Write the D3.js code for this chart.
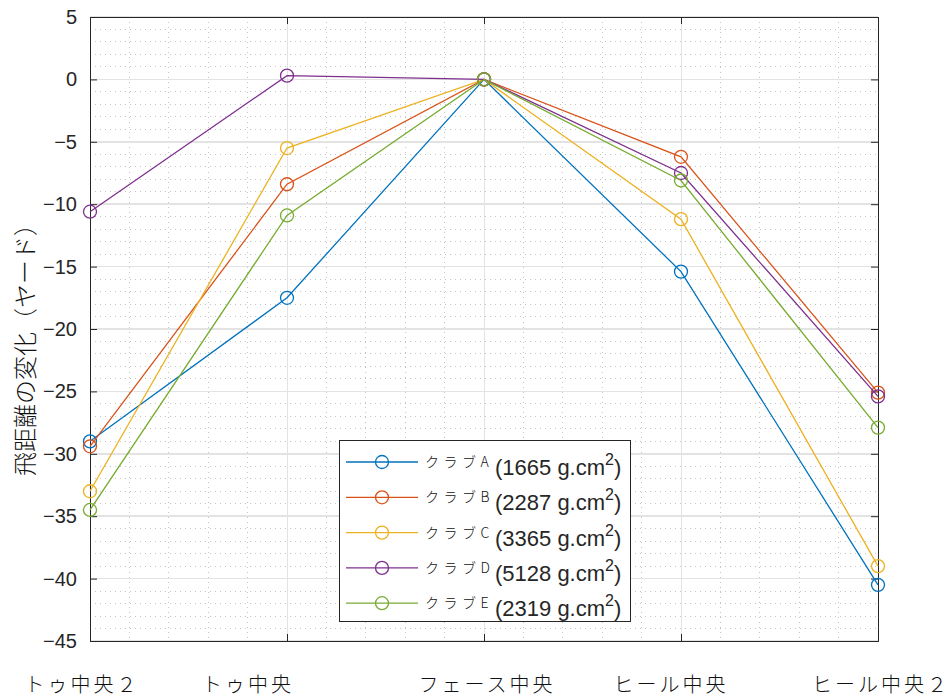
<!DOCTYPE html>
<html>
<head>
<meta charset="utf-8">
<script src="https://cdn.jsdelivr.net/npm/d3@7"></script>
<style>
  html, body { margin: 0; padding: 0; background: #fff; }
  svg { display: block; }
</style>
</head>
<body>
<svg id="chart" width="951" height="698"></svg>
<script>
// ---- data ----
const categories = ["トゥ中央２", "トゥ中央", "フェース中央", "ヒール中央", "ヒール中央２"];
const seriesNames = ["クラブA", "クラブB", "クラブC", "クラブD", "クラブE"];
const seriesMoi = ["1665", "2287", "3365", "5128", "2319"];
const clubA = [-29.0, -17.5, 0, -15.4, -40.5];
const clubB = [-29.4, -8.4, 0, -6.2, -25.1];
const clubC = [-33.0, -5.5, 0, -11.2, -39.0];
const clubD = [-10.6, 0.3, 0, -7.5, -25.4];
const clubE = [-34.5, -10.9, 0, -8.1, -27.9];
const yTicks = [5, 0, -5, -10, -15, -20, -25, -30, -35, -40, -45];
const yLabel = "飛距離の変化（ヤード）";

const series = [clubA, clubB, clubC, clubD, clubE];
const colors = ["#0072BD", "#D95319", "#EDB120", "#7E2F8E", "#77AC30"];

// ---- layout ----
const svg = d3.select("#chart");
const L = 90, R = 878, T = 17, B = 641;
const x = d3.scaleLinear().domain([1, 5]).range([L, R]);
const y = d3.scaleLinear().domain([-45, 5]).range([B, T]);
const axisCol = "#262626";

// grid: minor dotted
const g = svg.append("g");
const minorX = d3.range(1, 5.0001, 0.2).filter(v => Math.abs(v - Math.round(v)) > 1e-6);
const minorY = d3.range(-45, 5.0001, 1).filter(v => v % 5 !== 0);
g.selectAll(".mx").data(minorX).enter().append("line")
  .attr("x1", d => x(d)).attr("x2", d => x(d)).attr("y1", T).attr("y2", B)
  .attr("stroke", "#c4c4c4").attr("stroke-width", 1).attr("stroke-dasharray", "1,4").attr("shape-rendering", "crispEdges");
g.selectAll(".my").data(minorY).enter().append("line")
  .attr("x1", L).attr("x2", R).attr("y1", d => y(d)).attr("y2", d => y(d))
  .attr("stroke", "#c4c4c4").attr("stroke-width", 1).attr("stroke-dasharray", "1,4").attr("shape-rendering", "crispEdges");
// major grid
g.selectAll(".Mx").data([1, 2, 3, 4, 5]).enter().append("line")
  .attr("x1", d => x(d)).attr("x2", d => x(d)).attr("y1", T).attr("y2", B)
  .attr("stroke", "#e3e3e3").attr("stroke-width", 1).attr("shape-rendering", "crispEdges");
g.selectAll(".My").data(yTicks).enter().append("line")
  .attr("x1", L).attr("x2", R).attr("y1", d => y(d)).attr("y2", d => y(d))
  .attr("stroke", "#e3e3e3").attr("stroke-width", 1.5).attr("shape-rendering", "crispEdges");

// axes (ticks inward)
const tl = 7;
svg.append("g").attr("transform", `translate(${L},0)`)
  .call(d3.axisLeft(y).tickValues(yTicks).tickSize(-tl).tickPadding(tl + 6).tickFormat(d3.format("d")))
  .call(a => {
    a.select(".domain").attr("stroke", axisCol);
    a.selectAll(".tick line").attr("stroke", axisCol);
    a.selectAll("text").attr("fill", axisCol).style("font-family", "'Liberation Sans', Arial, sans-serif").style("font-size", "20px");
  });
svg.append("g").attr("transform", `translate(${R},0)`)
  .call(d3.axisRight(y).tickValues(yTicks).tickSize(-tl).tickFormat(""))
  .call(a => { a.select(".domain").attr("stroke", axisCol); a.selectAll(".tick line").attr("stroke", axisCol); });
svg.append("g").attr("transform", `translate(0,${B})`)
  .call(d3.axisBottom(x).tickValues([1, 2, 3, 4, 5]).tickSize(-tl).tickFormat(""))
  .call(a => { a.select(".domain").attr("stroke", axisCol); a.selectAll(".tick line").attr("stroke", axisCol); });
svg.append("g").attr("transform", `translate(0,${T})`)
  .call(d3.axisTop(x).tickValues([1, 2, 3, 4, 5]).tickSize(-tl).tickFormat(""))
  .call(a => { a.select(".domain").attr("stroke", axisCol); a.selectAll(".tick line").attr("stroke", axisCol); });

// category labels
const labelShift = [-8, -39, 3, -10, 3];
svg.append("g").selectAll("text").data(categories).enter().append("text")
  .attr("x", (d, i) => x(i + 1) + labelShift[i]).attr("y", 692)
  .attr("text-anchor", "middle")
  .style("font-family", "'Noto Sans CJK JP', sans-serif").style("font-size", "20px").style("font-weight", "300")
  .style("letter-spacing", "3px").attr("fill", "#111")
  .text(d => d);

// y label
svg.append("text")
  .attr("transform", `translate(34,${344}) rotate(-90)`)
  .attr("text-anchor", "middle")
  .style("font-family", "'Noto Sans CJK JP', sans-serif").style("font-size", "24px").style("font-weight", "300")
  .attr("fill", "#111")
  .text(yLabel);

// lines and markers
const line = d3.line().x((d, i) => x(i + 1)).y(d => y(d));
series.forEach((s, k) => {
  svg.append("path").datum(s).attr("d", line)
    .attr("fill", "none").attr("stroke", colors[k]).attr("stroke-width", 1.3);
  svg.append("g").selectAll("circle").data(s).enter().append("circle")
    .attr("cx", (d, i) => x(i + 1)).attr("cy", d => y(d)).attr("r", 6.5)
    .attr("fill", "none").attr("stroke", colors[k]).attr("stroke-width", 1.3);
});

// legend
const lg = svg.append("g");
const lx = 339, ly = 440, lw = 291, lh = 181;
lg.append("rect").attr("x", lx + 0.5).attr("y", ly + 0.5).attr("width", lw).attr("height", lh)
  .attr("fill", "#fff").attr("stroke", axisCol).attr("stroke-width", 1);
seriesNames.forEach((nm, k) => {
  const yy = ly + 22 + k * 35.3;
  lg.append("line").attr("x1", lx + 7).attr("x2", lx + 79).attr("y1", yy).attr("y2", yy)
    .attr("stroke", colors[k]).attr("stroke-width", 1.3);
  lg.append("circle").attr("cx", lx + 43).attr("cy", yy).attr("r", 6.5)
    .attr("fill", "none").attr("stroke", colors[k]).attr("stroke-width", 1.3);
  lg.append("text").attr("x", lx + 86).attr("y", yy + 5)
    .style("font-family", "'Noto Sans CJK JP', sans-serif").style("font-size", "14px").style("font-weight", "300")
    .style("letter-spacing", "4.5px").attr("fill", "#111").text(nm);
  const t = lg.append("text").attr("x", lx + 156).attr("y", yy + 13)
    .style("font-family", "'Liberation Sans', Arial, sans-serif").style("font-size", "22px").attr("fill", axisCol);
  t.append("tspan").text("(" + seriesMoi[k] + " g.cm");
  t.append("tspan").attr("dy", -10).style("font-size", "16px").text("2");
  t.append("tspan").attr("dy", 10).text(")");
});
</script>
</body>
</html>
